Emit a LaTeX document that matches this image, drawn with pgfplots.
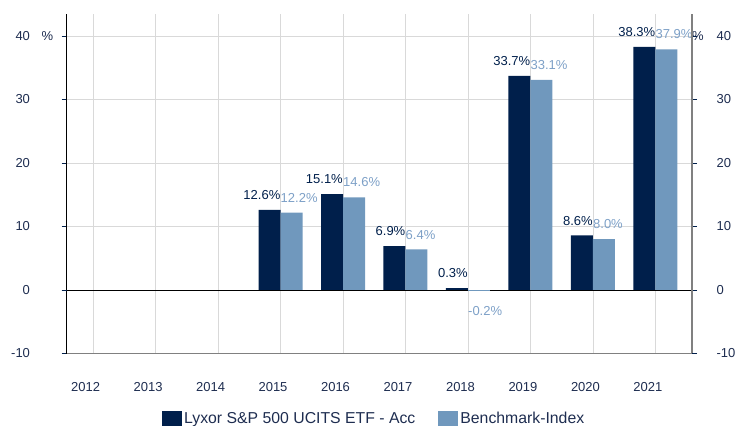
\documentclass[border=0pt]{standalone}
\usepackage{pgfplots}
\pgfplotsset{compat=1.18}
\usepackage{fontspec}
\setmainfont{Liberation Sans}
\definecolor{navy}{RGB}{0,31,75}
\definecolor{steel}{RGB}{112,152,189}
\definecolor{steeltxt}{RGB}{125,160,199}
\definecolor{txt}{RGB}{30,45,80}
\definecolor{gridc}{RGB}{217,217,217}
\begin{document}
\begin{tikzpicture}
\useasboundingbox (0,0) rectangle (736bp,426bp);
\begin{axis}[
  at={(66.5bp,72.5bp)}, anchor=south west,
  width=625.5bp, height=339.5bp, scale only axis,
  xmin=-0.425, xmax=9.585, ymin=-10, ymax=43.46,
  clip=false,
  axis x line*=bottom, axis y line*=left,
  axis line style={-},
  x axis line style={draw=gray, line width=1.5bp},
  y axis line style={draw=black, line width=0.8bp},
  xtick={0,1,2,3,4,5,6,7,8,9},
  xticklabels={2012,2013,2014,2015,2016,2017,2018,2019,2020,2021},
  ytick={-10,0,10,20,30,40},
  /pgf/number format/assume math mode=true,
  tick label style={font=\fontsize{13bp}{15bp}\selectfont, text=txt},
  xticklabel style={anchor=center, xshift=-7.5bp, yshift=-29bp},
  yticklabel style={anchor=east, xshift=-28bp},
  xtick style={draw=none},
  ytick style={draw=navy, line width=0.8bp},
  tick align=outside, major tick length=5bp,
  grid=major, major grid style={gridc, line width=0.8bp},
  extra y ticks={0}, extra y tick labels={},
  extra y tick style={grid=major, major grid style={black, line width=0.8bp}, tick style={draw=none}},
  ybar, bar width=22bp,
  legend image code/.code={\fill[#1] (0bp,-12bp) rectangle (20bp,8bp);},
  legend style={draw=none, fill=none, inner sep=0pt,
    at={(axis description cs:0.1527,-0.166)}, anchor=north west,
    legend columns=2, font=\fontsize{15.8bp}{18bp}\selectfont, text=txt,
    /tikz/every even column/.append style={column sep=21bp}},
  legend cell align=left,
  nodes near coords={\pgfmathprintnumber[fixed,fixed zerofill,precision=1]{\pgfplotspointmeta}\%},
]
\addplot[fill=navy, draw=none, bar shift=-11bp,
  every node near coord/.append style={font=\fontsize{13bp}{15bp}\selectfont, text=navy, anchor=south east, inner sep=0pt, xshift=11bp, yshift=10bp}]
  coordinates {(3,12.6) (4,15.1) (5,6.9) (6,0.3) (7,33.7) (8,8.6) (9,38.3)};
\addlegendentry{Lyxor S\&P 500 UCITS ETF - Acc}
\addplot[fill=steel, draw=none, bar shift=11bp,
  every node near coord/.append style={font=\fontsize{13bp}{15bp}\selectfont, text=steeltxt, anchor=south west, inner sep=0pt, xshift=-11bp, yshift=10bp}]
  coordinates {(3,12.2) (4,14.6) (5,6.4) (7,33.1) (8,8.0) (9,37.9)};
\addlegendentry{Benchmark-Index}
\addplot[fill=steel, draw=none, bar shift=11bp, forget plot,
  every node near coord/.append style={font=\fontsize{13bp}{15bp}\selectfont, text=steeltxt, anchor=north west, inner sep=0pt, xshift=-11bp, yshift=-15bp}]
  coordinates {(6,-0.2)};
\node[font=\fontsize{13bp}{15bp}\selectfont, text=txt, anchor=center] at (axis cs:-0.425,40) [xshift=-19bp] {\%};
\node[font=\fontsize{13bp}{15bp}\selectfont, text=txt, anchor=center] at (axis cs:9.585,40) [xshift=6bp] {\%};
\end{axis}
\begin{axis}[
  at={(66.5bp,72.5bp)}, anchor=south west,
  width=625.5bp, height=339.5bp, scale only axis,
  xmin=-0.425, xmax=9.585, ymin=-10, ymax=43.46,
  axis x line=none, axis y line*=right,
  axis line style={-},
  y axis line style={draw=gray, line width=1.5bp},
  ytick={-10,0,10,20,30,40},
  /pgf/number format/assume math mode=true,
  tick label style={font=\fontsize{13bp}{15bp}\selectfont, text=txt},
  yticklabel style={anchor=west, xshift=16bp},
  ytick style={draw=navy, line width=0.8bp},
  tick align=outside, major tick length=5bp,
]
\addplot[draw=none, forget plot] coordinates {(0,0)};
\end{axis}
\end{tikzpicture}
\end{document}
